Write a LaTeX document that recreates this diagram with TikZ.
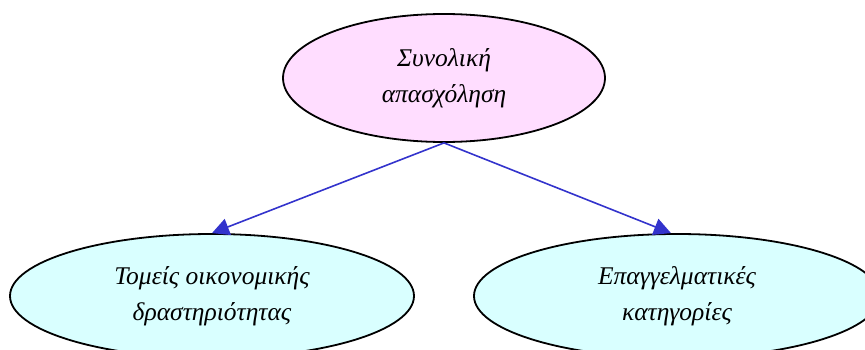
\documentclass[tikz,border=0pt]{standalone}
\usepackage{fontspec}
\setmainfont{Liberation Serif}
\usetikzlibrary{shapes.geometric,arrows.meta}
\definecolor{topfill}{RGB}{255,221,255}
\definecolor{leaffill}{RGB}{217,255,255}
\definecolor{edgeblue}{RGB}{51,51,204}
\begin{document}
\begin{tikzpicture}[x=1pt,y=1pt,
  ell/.style={ellipse,draw=black,line width=1.8pt,inner sep=0pt,align=center,
    font=\fontsize{25.5}{36}\selectfont\itshape},
  conn/.style={draw=edgeblue,line width=1.6pt,-{Triangle[length=17pt,width=17pt]}}]
\useasboundingbox (0,0) rectangle (865,349);
\node[ell,fill=topfill,minimum width=322pt,minimum height=128pt] (top) at (444,271) {Συνολική\\απασχόληση};
\node[ell,fill=leaffill,minimum width=404pt,minimum height=124pt] (bl) at (212,53) {Τομείς οικονομικής\\δραστηριότητας};
\node[ell,fill=leaffill,minimum width=406pt,minimum height=124pt] (br) at (677,53) {Επαγγελματικές\\κατηγορίες};
\draw[conn] (top.south) -- (bl.north);
\draw[conn] (top.south) -- ([xshift=-6pt]br.north);
\end{tikzpicture}
\end{document}
